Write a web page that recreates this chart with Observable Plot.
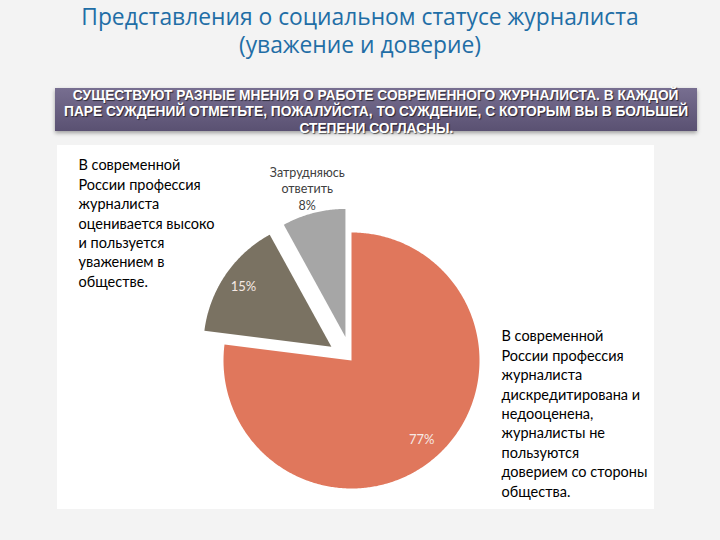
<!DOCTYPE html>
<html>
<head>
<meta charset="utf-8">
<script src="https://cdn.jsdelivr.net/npm/d3@7"></script>
<script src="https://cdn.jsdelivr.net/npm/@observablehq/plot@0.6"></script>
<style>
  html, body { margin: 0; padding: 0; }
  body { width: 720px; height: 540px; background: #f3f3f3; position: relative; overflow: hidden; font-family: "Open Sans", sans-serif; }
  #title { position: absolute; left: 0; top: 3px; width: 720px; text-align: center; color: #1f6ea6; font-size: 22.8px; line-height: 28px; font-family: "Open Sans", sans-serif; }
  #banner { position: absolute; left: 55px; top: 88px; width: 642px; height: 43px; overflow: visible;
    background: linear-gradient(#776e90, #5a5172); box-shadow: 0 2px 4px rgba(0,0,0,0.35); }
  #bannerText { position: absolute; left: 0; width: 642px; top: -1px; text-align: center; color: #fff; font-weight: bold; font-size: 14px; line-height: 16.3px;
    font-family: "Liberation Sans", Arial, sans-serif; text-shadow: 1px 1px 1px rgba(0,0,0,0.6); transform-origin: 50% 0; }
  #bannerText span { display: block; white-space: nowrap; }
  #bannerText span b { font-weight: bold; display: inline-block; }
  #chart { position: absolute; left: 57px; top: 145px; width: 597px; height: 364px; background: #fff; }
</style>
</head>
<body>
<div id="title">Представления о социальном статусе журналиста<br>(уважение и доверие)</div>
<div id="banner"><div id="bannerText"><span><b>СУЩЕСТВУЮТ РАЗНЫЕ МНЕНИЯ О РАБОТЕ СОВРЕМЕННОГО ЖУРНАЛИСТА. В КАЖДОЙ</b></span><span><b id="refLine">ПАРЕ СУЖДЕНИЙ ОТМЕТЬТЕ, ПОЖАЛУЙСТА, ТО СУЖДЕНИЕ, С КОТОРЫМ ВЫ В БОЛЬШЕЙ</b></span><span><b>СТЕПЕНИ СОГЛАСНЫ.</b></span></div></div>
<div id="chart"></div>
<script>
// ---- data ----
const categories = ["Дискредитирована и недооценена", "Оценивается высоко", "Затрудняюсь ответить"];
const values = [77, 15, 8];
const valueLabels = ["77%", "15%", "8%"];
const leftText = "В современной\nРоссии профессия\nжурналиста\nоценивается высоко\nи пользуется\nуважением в\nобществе.";
const rightText = "В современной\nРоссии профессия\nжурналиста\nдискредитирована и\nнедооценена,\nжурналисты не\nпользуются\nдоверием со стороны\nобщества.";
const outsideLabel = "Затрудняюсь\nответить";

// ---- banner: condense text to the narrow look ----
(function () {
  const ref = document.getElementById("refLine");
  const w = ref.getBoundingClientRect().width;
  const k = 624 / w;
  document.querySelectorAll("#bannerText span b").forEach(b => {
    b.style.transform = "scaleX(" + k + ")";
  });
})();

// ---- chart ----
const palette = ["#e0775c", "#7a7262", "#a6a6a6"];
const W = 597, H = 364, R = 128, CX = 294, CY = 215;
const explodeAmt = {"Оценивается высоко": 0.19, "Затрудняюсь ответить": 0.19};

const data = categories.map((c, i) => ({cat: c, value: values[i], label: valueLabels[i]}));
const arcs = d3.pie().sort(null).value(d => d.value)(data);

const polyPts = [];
const labelPts = [];
arcs.forEach(a => {
  const mid = (a.startAngle + a.endAngle) / 2;
  const off = explodeAmt[a.data.cat] || 0;
  const ax = off * Math.sin(mid), ay = off * Math.cos(mid);
  polyPts.push({cat: a.data.cat, x: ax, y: ay});
  const n = Math.max(4, Math.ceil((a.endAngle - a.startAngle) / 0.01));
  for (let k = 0; k <= n; k++) {
    const t = a.startAngle + (a.endAngle - a.startAngle) * k / n;
    polyPts.push({cat: a.data.cat, x: ax + Math.sin(t), y: ay + Math.cos(t)});
  }
  polyPts.push({cat: a.data.cat, x: ax, y: ay});
  const inside = a.data.cat !== "Затрудняюсь ответить";
  const rr = inside ? 0.83 : 1.2;
  labelPts.push({cat: a.data.cat, inside,
    text: inside ? a.data.label : outsideLabel + "\n" + a.data.label,
    x: ax + rr * Math.sin(mid), y: ay + rr * Math.cos(mid)});
});

const plot = Plot.plot({
  width: W, height: H, margin: 0,
  style: {background: "transparent", overflow: "visible"},
  x: {domain: [-CX / R, (W - CX) / R], range: [0, W], axis: null},
  y: {domain: [-(H - CY) / R, CY / R], range: [H, 0], axis: null},
  color: {domain: categories, range: palette},
  marks: [
    Plot.line(polyPts, {x: "x", y: "y", z: "cat", fill: "cat", stroke: null, curve: "linear"}),
    Plot.text(labelPts.filter(d => d.inside), {x: "x", y: "y", text: "text", fill: "#f6e9e4",
      fontSize: 13, fontFamily: "Lato, sans-serif"}),
    Plot.text(labelPts.filter(d => !d.inside), {x: "x", y: "y", text: "text", fill: "#404040",
      fontSize: 12.5, lineHeight: 1.32, fontFamily: "Lato, sans-serif"}),
    Plot.text([leftText], {frameAnchor: "top-left", dx: 21, dy: 11, textAnchor: "start", lineAnchor: "top",
      fill: "#000", fontSize: 14.5, lineHeight: 1.34, fontFamily: "Lato, sans-serif"}),
    Plot.text([rightText], {frameAnchor: "top-left", dx: 444, dy: 182, textAnchor: "start", lineAnchor: "top",
      fill: "#000", fontSize: 14.5, lineHeight: 1.34, fontFamily: "Lato, sans-serif"})
  ]
});
document.getElementById("chart").appendChild(plot);
</script>
</body>
</html>
